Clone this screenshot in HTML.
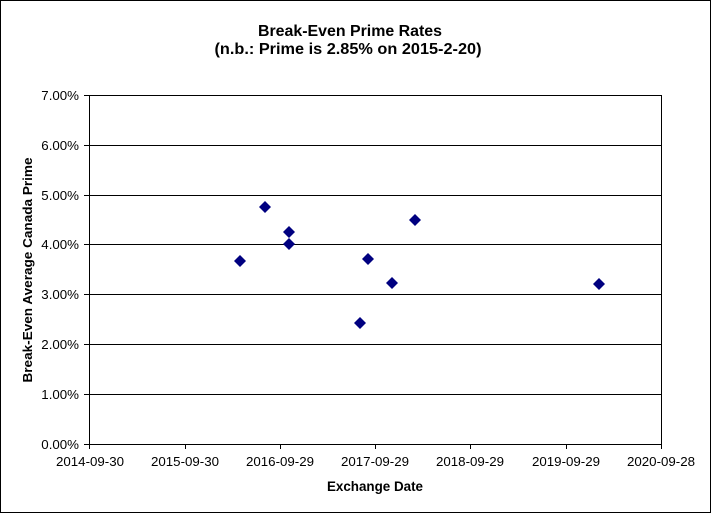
<!DOCTYPE html>
<html><head><meta charset="utf-8"><style>html,body{margin:0;padding:0;background:#fff}</style></head>
<body>
<svg width="711" height="513" viewBox="0 0 711 513" xmlns="http://www.w3.org/2000/svg" font-family="Liberation Sans, Arial, sans-serif">
<rect x="0.5" y="0.5" width="710" height="512" fill="#fff" stroke="#000" stroke-width="1"/>
<text x="350" y="36" font-size="16" font-weight="bold" text-anchor="middle" textLength="184" lengthAdjust="spacingAndGlyphs">Break-Even Prime Rates</text>
<text x="348" y="54" font-size="16" font-weight="bold" text-anchor="middle" textLength="267" lengthAdjust="spacingAndGlyphs">(n.b.: Prime is 2.85% on 2015-2-20)</text>
<g stroke="#000" stroke-width="1">
<line x1="89" y1="95.5" x2="662" y2="95.5"/>
<line x1="89" y1="145.5" x2="662" y2="145.5"/>
<line x1="89" y1="195.5" x2="662" y2="195.5"/>
<line x1="89" y1="244.5" x2="662" y2="244.5"/>
<line x1="89" y1="294.5" x2="662" y2="294.5"/>
<line x1="89" y1="344.5" x2="662" y2="344.5"/>
<line x1="89" y1="394.5" x2="662" y2="394.5"/>
<line x1="661.5" y1="95" x2="661.5" y2="444"/>
<line x1="89.5" y1="95" x2="89.5" y2="449"/>
<line x1="84" y1="444.5" x2="662" y2="444.5"/>
<line x1="84" y1="95.5" x2="89" y2="95.5"/>
<line x1="84" y1="145.5" x2="89" y2="145.5"/>
<line x1="84" y1="195.5" x2="89" y2="195.5"/>
<line x1="84" y1="244.5" x2="89" y2="244.5"/>
<line x1="84" y1="294.5" x2="89" y2="294.5"/>
<line x1="84" y1="344.5" x2="89" y2="344.5"/>
<line x1="84" y1="394.5" x2="89" y2="394.5"/>
<line x1="185.5" y1="444" x2="185.5" y2="449"/>
<line x1="280.5" y1="444" x2="280.5" y2="449"/>
<line x1="375.5" y1="444" x2="375.5" y2="449"/>
<line x1="470.5" y1="444" x2="470.5" y2="449"/>
<line x1="566.5" y1="444" x2="566.5" y2="449"/>
<line x1="661.5" y1="444" x2="661.5" y2="449"/>
</g>
<g font-size="13.3" text-anchor="end">
<text x="79" y="100">7.00%</text>
<text x="79" y="150">6.00%</text>
<text x="79" y="200">5.00%</text>
<text x="79" y="249">4.00%</text>
<text x="79" y="299">3.00%</text>
<text x="79" y="349">2.00%</text>
<text x="79" y="399">1.00%</text>
<text x="79" y="449">0.00%</text>
</g>
<g font-size="13.3" text-anchor="middle">
<text x="90" y="466">2014-09-30</text>
<text x="185" y="466">2015-09-30</text>
<text x="280" y="466">2016-09-29</text>
<text x="375" y="466">2017-09-29</text>
<text x="470" y="466">2018-09-29</text>
<text x="566" y="466">2019-09-29</text>
<text x="661" y="466">2020-09-28</text>
</g>
<text x="375" y="491" font-size="13.4" font-weight="bold" text-anchor="middle">Exchange Date</text>
<text transform="translate(32,270) rotate(-90)" font-size="13" font-weight="bold" text-anchor="middle" textLength="225" lengthAdjust="spacingAndGlyphs">Break-Even Average Canada Prime</text>
<g fill="#000080">
<path d="M240 255l6 6-6 6-6-6z"/>
<path d="M265 201l6 6-6 6-6-6z"/>
<path d="M289 226l6 6-6 6-6-6z"/>
<path d="M289 238l6 6-6 6-6-6z"/>
<path d="M360 317l6 6-6 6-6-6z"/>
<path d="M368 253l6 6-6 6-6-6z"/>
<path d="M392 277l6 6-6 6-6-6z"/>
<path d="M415 214l6 6-6 6-6-6z"/>
<path d="M599 278l6 6-6 6-6-6z"/>
</g>
</svg>
</body></html>
